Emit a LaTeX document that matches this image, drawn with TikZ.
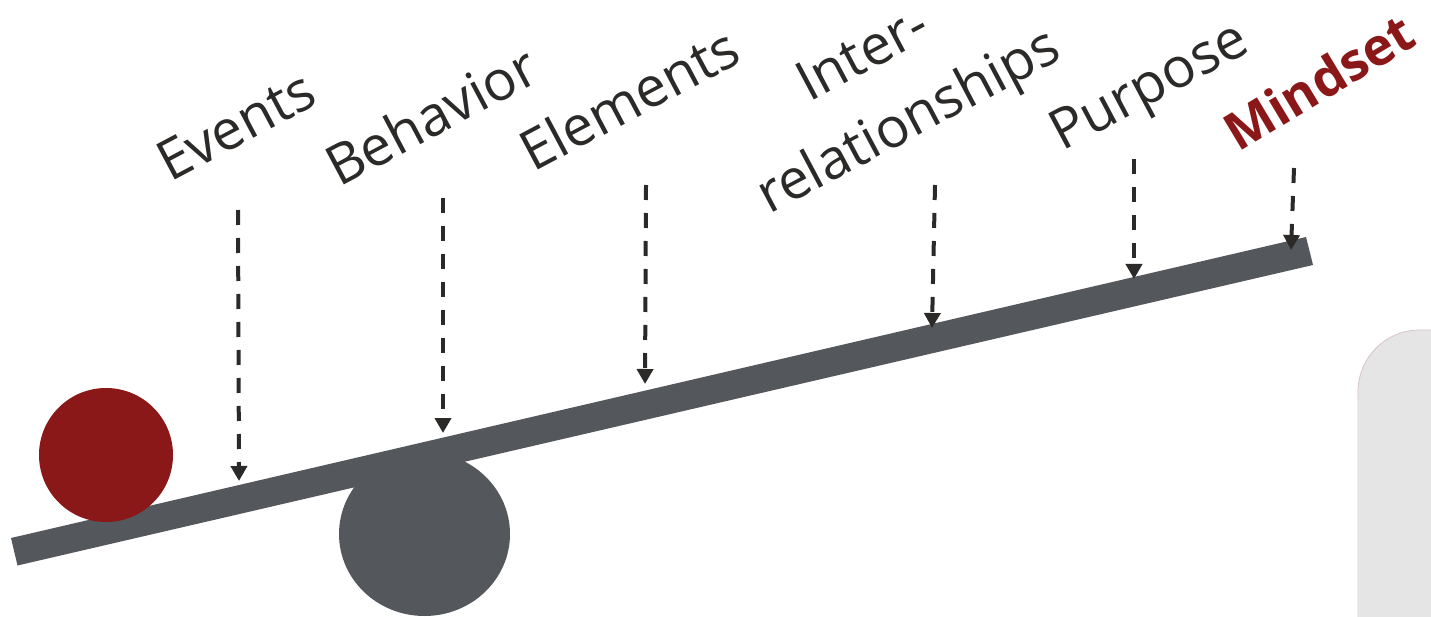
\documentclass[tikz,border=0pt]{standalone}
\usepackage{fontspec}
\setmainfont{Open Sans}
\usetikzlibrary{arrows.meta}
\definecolor{ballred}{HTML}{8B1818}
\definecolor{beamgray}{HTML}{54575C}
\definecolor{inkgray}{HTML}{2B2A28}
\definecolor{panelgray}{HTML}{E5E5E5}
\definecolor{panelline}{HTML}{D8C4C4}
\tikzset{
  lblbase/.style={anchor=base west, inner sep=0pt},
  lbl/.style={lblbase, rotate=28, text=inkgray, font=\fontsize{55.5}{66}\selectfont},
  keylbl/.style={lblbase, rotate=31, text=ballred, font=\fontsize{52}{62}\selectfont\bfseries},
  pointer/.style={draw=inkgray, line width=4pt, dash pattern=on 15pt off 13pt,
    -{Triangle[width=16pt,length=15pt]}},
}
\begin{document}
\begin{tikzpicture}[x=1pt,y=-1pt]
\useasboundingbox (0,0) rectangle (1431,617);
% right panel
\path[fill=panelgray, draw=panelline, line width=0.8pt]
  (1431,617) -- (1358,617) -- (1358,392) .. controls (1358,358) and (1385,330) .. (1420,330) -- (1432,330);
\fill[panelgray] (1358.4,400) rectangle (1432,617);
% fulcrum
\fill[beamgray] (424.5,534) ellipse [x radius=85.5, y radius=82];
% beam
\fill[beamgray] (11,538) -- (17.5,565.5) -- (1313,265) -- (1306,237) -- cycle;
% ball
\fill[ballred] (106,455) circle [radius=67];
% labels
\node[lbl] (events) at (170,183) {Events};
\node[lbl] (behavior) at (339,188) {Behavior};
\node[lbl] (elements) at (533,173) {Elements};
\node[lbl] (inter) at (809,103) {Inter-};
\node[lbl] (relations) at (769,215) {relationships};
\node[lbl] (purpose) at (1062,152) {Purpose};
\node[keylbl] (mindset) at (1238,153) {Mindset};
% arrow endpoints
\coordinate (e1) at (238,210); \coordinate (t1) at (239,481);
\coordinate (e2) at (443,198); \coordinate (t2) at (443,433);
\coordinate (e3) at (646,185); \coordinate (t3) at (645,384);
\coordinate (e4) at (935,185); \coordinate (t4) at (932,328);
\coordinate (e5) at (1134,159); \coordinate (t5) at (1134,279);
\coordinate (e6) at (1294,168); \coordinate (t6) at (1291,250);
\foreach \i in {1,...,6} \draw[pointer] (e\i) -- (t\i);
\end{tikzpicture}
\end{document}
